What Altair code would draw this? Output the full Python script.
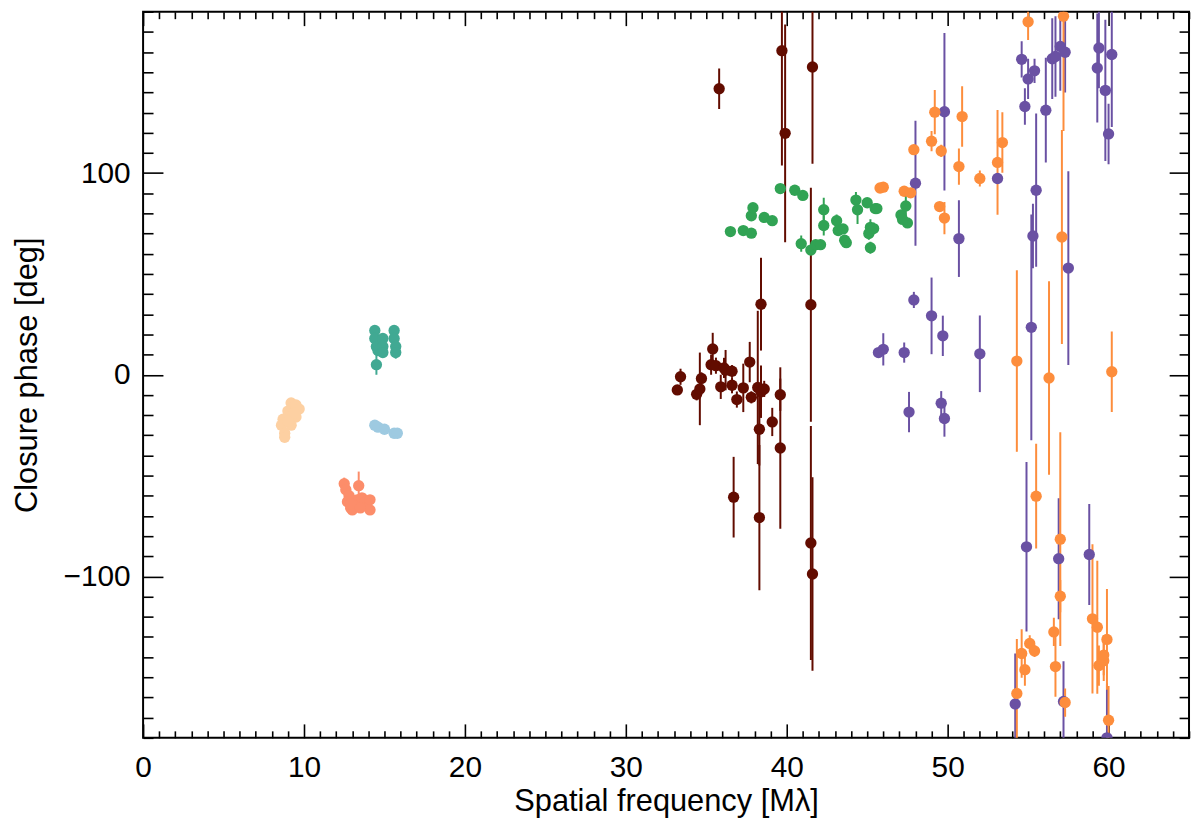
import altair as alt
import pandas as pd

# closure phases per triangle group: spatial frequency [Mλ], phase [deg], 1-sigma error [deg]
peach_x = [9.2, 9.5, 9.7, 9.0, 9.3, 8.7, 9.5, 8.6, 9.2, 8.8, 8.8, 9.0, 9.4]
peach_y = [-14, -15, -17, -18, -19, -22, -21, -25, -25, -29, -31, -23, -19]
peach_e = [2, 2, 2, 2, 2, 2, 2, 2, 2, 2, 2, 2, 2]

salmon_x = [12.5, 12.6, 12.8, 13.4, 12.7, 12.9, 13.1, 13.3, 13.6, 13.8, 14.1, 14.1, 13.0, 12.9, 13.5]
salmon_y = [-54, -57, -60, -55, -63, -66, -65, -62, -61, -63, -62, -67, -67, -64, -66]
salmon_e = [3, 2, 2, 7, 2, 2, 2, 2, 2, 2, 2, 2, 2, 2, 2]

teal_x = [14.4, 14.4, 14.5, 14.6, 14.9, 14.9, 14.9, 15.6, 15.6, 15.7, 15.7, 14.5]
teal_y = [22, 18, 14, 12, 18, 14, 11, 22, 18, 14, 11, 5]
teal_e = [2, 2, 2, 2, 2, 2, 2, 2, 2, 2, 3, 5]

blue_x = [14.4, 14.6, 15.0, 15.6, 15.8]
blue_y = [-25, -26, -27, -29, -29]
blue_e = [1, 1, 1, 1, 1]

green_x = [36.5, 37.3, 37.8, 37.8, 37.9, 38.6, 39.1, 39.6, 40.5, 41.0, 40.9, 41.5, 41.8, 42.1,
           42.3, 42.3, 43.1, 43.2, 43.5, 43.6, 43.7, 44.3, 44.4, 45.0, 45.5, 45.2, 45.1, 45.2,
           45.6, 45.4, 47.1, 47.4, 47.5, 47.2]
green_y = [71, 71.5, 70.2, 78.8, 82.8, 78, 76.4, 92.3, 91.5, 88.9, 65, 61.8, 64.5, 64.5,
           81.8, 74, 76.4, 71.5, 72.3, 66.7, 65.5, 86.6, 81.8, 85.3, 82.4, 73.1, 70, 63,
           82.4, 72.5, 79.2, 83.7, 75.3, 77]
green_e = [2, 2, 2, 2, 2, 2, 2, 2, 2, 2, 4, 2, 2, 2,
           6, 5, 3, 2, 2, 2, 2, 4, 7, 2, 2, 4, 3, 3,
           2, 3, 2, 5, 2, 2]

purple_x = [49.8, 48.0, 50.7, 53.1, 54.6, 54.8, 55.0, 55.4, 55.5, 55.3, 56.1, 56.5, 56.7, 57.0,
            57.3, 57.5, 59.3, 59.4, 59.8, 60.2, 60.0, 45.7, 46.0, 47.3, 47.6, 47.9, 49.0, 49.7,
            49.6, 49.8, 52.0, 55.2, 54.9, 56.9, 58.8, 54.2, 57.2, 59.9]
purple_y = [130.4, 95, 67.5, 97.3, 156.4, 133, 146.7, 150.7, 91.5, 68.8, 131.2, 156.7, 157.8, 162.8,
            159.9, 52.9, 152.1, 162, 141, 158.8, 119.4, 11, 12.6, 11, -18.5, 37.1, 29.2, 19.3,
            -14.1, -21.7, 10.4, 23.5, -85.3, -91.2, -89.1, -163.2, -162, -180]
purple_e = [39, 31, 19, 2, 9, 9, 10, 6, 38, 16, 26, 20, 20, 22,
            20, 48, 27, 20, 35, 36, 15, 2, 8, 5, 10, 4, 19, 10,
            6, 9, 19, 56, 42, 30, 25, 25, 20, 27]

orange_x = [45.8, 46.0, 47.3, 47.7, 47.9, 49.0, 49.2, 49.6, 49.5, 49.8, 50.9, 50.7, 52.0, 53.1,
            53.4, 55.0, 57.2, 57.1, 54.3, 56.3, 60.2, 55.5, 57.0, 57.0, 56.6, 56.7, 55.1, 54.6,
            55.4, 54.8, 54.3, 57.3, 59.0, 59.3, 59.4, 59.7, 59.7, 59.9, 60.0]
orange_y = [92.6, 93, 91, 90.2, 111.6, 115.8, 130.2, 111, 83.4, 77.7, 128, 103.2, 97.3, 105.3,
            115.1, 175, 177.8, 68.3, 6.8, -1.6, 1.5, -60.2, -81.5, -109.8, -127.5, -144.7, -133.2, -138.2,
            -136.9, -146.2, -158, -162.5, -121, -125.2, -144.2, -141.8, -139, -131.2, -171.3]
orange_e = [2, 2, 2, 2, 2, 5, 11, 3, 2, 8, 15, 9, 4, 26,
            15, 9, 57, 53, 45, 48, 20, 26, 53, 8, 7, 15, 4, 12,
            3, 8, 27, 7, 37, 33, 10, 10, 10, 25, 17]

brown_x = [33.2, 33.4, 34.4, 34.6, 34.7, 35.4, 35.3, 35.6, 35.9, 36.1, 36.2, 36.6, 36.6, 36.9,
           36.7, 37.3, 37.7, 37.8, 38.2, 38.3, 38.3, 38.4, 38.4, 38.6, 39.1, 39.6, 39.6, 35.8,
           39.7, 39.9, 41.6, 41.5, 41.5, 41.6]
brown_y = [-7.5, -1, -9.7, -7, -1.8, 12.8, 5, 4.5, -6, 3.4, 2.3, 1.8, -5.2, -12.3,
           -60.7, -6.5, 6.3, -11.2, -6.3, -27, -70.8, 35, -8.4, -7, -23.4, -36.3, -9.9, 141.8,
           160.7, 119.7, 152.6, 34.7, -83.4, -98.8]
brown_e = [2, 4, 3, 18, 3, 8, 5, 4, 6, 5, 10, 3, 4, 4,
           20, 12, 10, 3, 38, 18, 36, 23, 13, 4, 7, 40, 8, 10,
           57, 54, 48, 58, 58, 48]

groups = [
    ("peach", "#fdd0a2", peach_x, peach_y, peach_e),
    ("salmon", "#fc8d6a", salmon_x, salmon_y, salmon_e),
    ("teal", "#41a993", teal_x, teal_y, teal_e),
    ("blue", "#9ecae1", blue_x, blue_y, blue_e),
    ("green", "#31a354", green_x, green_y, green_e),
    ("purple", "#6a51a3", purple_x, purple_y, purple_e),
    ("orange", "#fd8d3c", orange_x, orange_y, orange_e),
    ("brown", "#620c00", brown_x, brown_y, brown_e),
]

rows = []
for name, _, xs, ys, es in groups:
    for x, y, e in zip(xs, ys, es):
        rows.append({"group": name, "freq": x, "cp": y, "lo": y - e, "hi": y + e})
df = pd.DataFrame(rows)

W, H = 1053, 731
FONT = "Liberation Sans"

x_minor = list(range(0, 66))
y_minor = list(range(-180, 181, 10))
x_len = {"condition": {"test": "datum.value % 10 === 0", "value": 14}, "value": 7}
y_len = {"condition": {"test": "datum.value % 100 === 0", "value": 20}, "value": 10}

color = alt.Color(
    "group:N",
    scale=alt.Scale(domain=[g[0] for g in groups], range=[g[1] for g in groups]),
    legend=None,
)
xscale = alt.Scale(domain=[0, 65], nice=False, zero=False)
yscale = alt.Scale(domain=[-180, 180], nice=False, zero=False)


def tick_axis(orient, offset, values, size):
    return alt.Axis(
        orient=orient, offset=offset, values=values, labels=False, domain=False,
        grid=False, title="", tickSize=size, tickWidth=1.6, tickColor="black",
    )


# error bars carry the labelled axes
bars = alt.Chart(df).mark_rule(strokeWidth=2, clip=True).encode(
    x=alt.X("freq:Q", scale=xscale, axis=alt.Axis(
        orient="bottom", values=list(range(0, 61, 10)), ticks=False, tickSize=0,
        domain=False, grid=False, labelFlush=False, labelFont=FONT, labelFontSize=30,
        labelColor="black", labelBaseline="alphabetic", labelPadding=39,
        title="Spatial frequency [Mλ]", titleFont=FONT, titleFontSize=31,
        titleFontWeight="normal", titleColor="black", titleBaseline="alphabetic",
        titleAlign="center", titleX=W / 2, titleY=73,
    )),
    y=alt.Y("lo:Q", scale=yscale, axis=alt.Axis(
        orient="left", values=[-100, 0, 100], ticks=False, tickSize=0,
        domain=False, grid=False, labelFont=FONT, labelFontSize=30,
        labelColor="black", labelPadding=13,
        title="Closure phase [deg]", titleFont=FONT, titleFontSize=31,
        titleFontWeight="normal", titleColor="black", titleBaseline="alphabetic",
        titleAlign="center", titleAngle=-90, titleX=-107, titleY=H / 2,
    )),
    y2="hi:Q",
    color=color,
)

# points carry the inward ticks on the bottom and left edges
points = alt.Chart(df).mark_circle(size=130, opacity=1, clip=True).encode(
    x=alt.X("freq:Q", scale=xscale, axis=tick_axis("top", -H, x_minor, x_len)),
    y=alt.Y("cp:Q", scale=yscale, axis=tick_axis("right", -W, y_minor, y_len)),
    color=color,
)

# invisible copy that carries the inward ticks on the top and right edges
frame = alt.Chart(df).mark_circle(opacity=0).encode(
    x=alt.X("freq:Q", scale=xscale, axis=tick_axis("bottom", -H, x_minor, x_len)),
    y=alt.Y("cp:Q", scale=yscale, axis=tick_axis("left", -W, y_minor, y_len)),
)

chart = alt.layer(bars, points, frame).resolve_axis(
    x="independent", y="independent"
).properties(
    width=W,
    height=H,
    autosize=alt.AutoSizeParams(type="none"),
    padding={"left": 136, "top": 1, "right": 3, "bottom": 80},
).configure_view(stroke="black", strokeWidth=2)

chart.save("out.html", embed_options={"renderer": "svg", "actions": False})
